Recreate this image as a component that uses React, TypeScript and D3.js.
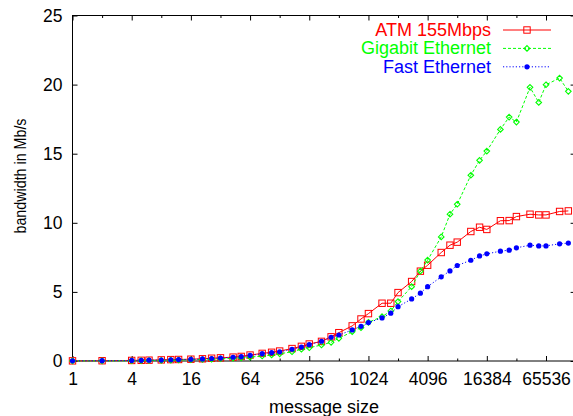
import { useEffect, useRef } from "react";
import * as d3 from "d3";

// message sizes (bytes) measured
const sizes = [
  1, 2, 4, 5, 6, 8, 10, 12, 16, 21, 26, 32, 43, 52, 64, 85, 106, 128, 171, 213,
  256, 341, 427, 512, 700, 860, 1024, 1408, 1728, 2048, 2816, 3456, 4096, 5632,
  6912, 8192, 11264, 13824, 16384, 22528, 27648, 32768, 45056, 55296, 65536,
  90112, 110592,
];

// bandwidth in Mb/s
const atm = [
  0.01, 0.02, 0.04, 0.05, 0.06, 0.08, 0.1, 0.11, 0.13, 0.16, 0.2, 0.23, 0.28,
  0.33, 0.43, 0.55, 0.63, 0.72, 0.9, 1.06, 1.23, 1.42, 1.75, 2.05, 2.54, 3.04,
  3.43, 4.18, 4.18, 4.95, 5.75, 6.5, 6.93, 7.85, 8.38, 8.6, 9.37, 9.68, 9.52,
  10.15, 10.16, 10.45, 10.62, 10.57, 10.57, 10.82, 10.86,
];
const gigabit = [
  0.005, 0.01, 0.02, 0.03, 0.035, 0.045, 0.06, 0.07, 0.09, 0.11, 0.13, 0.16,
  0.2, 0.23, 0.28, 0.36, 0.44, 0.52, 0.67, 0.85, 0.96, 1.16, 1.35, 1.64, 2.12,
  2.41, 2.8, 3.21, 3.62, 4.3, 5.38, 6.5, 7.3, 8.98, 10.62, 11.34, 13.44, 14.52,
  15.19, 16.76, 17.65, 17.29, 19.8, 18.71, 19.99, 20.47, 19.51,
];
const fast = [
  0.01, 0.02, 0.04, 0.05, 0.06, 0.07, 0.09, 0.1, 0.12, 0.15, 0.18, 0.21, 0.27,
  0.31, 0.4, 0.53, 0.6, 0.67, 0.85, 1.01, 1.18, 1.43, 1.72, 1.88, 2.25, 2.51,
  2.78, 3.12, 3.46, 3.93, 4.49, 4.91, 5.38, 6.09, 6.52, 6.91, 7.29, 7.6, 7.75,
  7.95, 8.02, 8.19, 8.38, 8.33, 8.33, 8.48, 8.53,
];

const xMajor = [1, 4, 16, 64, 256, 1024, 4096, 16384, 65536];
const xMinor = [2, 8, 32, 128, 512, 2048, 8192, 32768, 131072];
const yTicks = [0, 5, 10, 15, 20, 25];

const seriesNames = ["ATM 155Mbps", "Gigabit Ethernet", "Fast Ethernet"];

const W = 573;
const H = 416;
const FONT = "'Liberation Sans', Arial, Helvetica, sans-serif";

const App = () => {
  const ref = useRef<SVGSVGElement>(null);

  useEffect(() => {
    const svg = d3.select(ref.current);
    svg.selectAll("*").remove();

    const x = d3.scaleLog().base(2).domain([1, 131072]).range([72.5, 575.6]);
    const y = d3.scaleLinear().domain([0, 25]).range([361, 15.5]);
    const [x0, x1] = x.range();
    const [y0, y1] = y.range();

    const series = [
      { name: seriesNames[0], values: atm, color: "#ff0000", dash: null, mark: "square" },
      { name: seriesNames[1], values: gigabit, color: "#00ff00", dash: "3,2", mark: "diamond" },
      { name: seriesNames[2], values: fast, color: "#0000ff", dash: "1.2,2", mark: "circle" },
    ];

    // frame
    svg
      .append("rect")
      .attr("x", x0)
      .attr("y", y1)
      .attr("width", x1 - x0)
      .attr("height", y0 - y1)
      .attr("fill", "none")
      .attr("stroke", "#000")
      .attr("stroke-width", 1);

    const styleAxis = (g) => {
      g.select(".domain").remove();
      g.selectAll("line").attr("stroke", "#000");
      g.selectAll("text")
        .attr("font-family", FONT)
        .attr("font-size", 17.5)
        .attr("fill", "#000");
    };

    // bottom
    svg
      .append("g")
      .attr("transform", `translate(0,${y0})`)
      .call(d3.axisBottom(x).tickValues(xMajor).tickSize(-5).tickPadding(12).tickFormat(d3.format("d")))
      .call(styleAxis);
    svg
      .append("g")
      .attr("transform", `translate(0,${y0})`)
      .call(d3.axisBottom(x).tickValues(xMinor).tickSize(-2.5).tickFormat(() => ""))
      .call(styleAxis);
    // top mirror
    svg
      .append("g")
      .attr("transform", `translate(0,${y1})`)
      .call(d3.axisTop(x).tickValues(xMajor).tickSize(-5).tickFormat(() => ""))
      .call(styleAxis);
    svg
      .append("g")
      .attr("transform", `translate(0,${y1})`)
      .call(d3.axisTop(x).tickValues(xMinor).tickSize(-2.5).tickFormat(() => ""))
      .call(styleAxis);
    // left
    svg
      .append("g")
      .attr("transform", `translate(${x0},0)`)
      .call(d3.axisLeft(y).tickValues(yTicks).tickSize(-5).tickPadding(10))
      .call(styleAxis);
    // right mirror
    svg
      .append("g")
      .attr("transform", `translate(${x1},0)`)
      .call(d3.axisRight(y).tickValues(yTicks).tickSize(-5).tickFormat(() => ""))
      .call(styleAxis);

    // axis titles
    svg
      .append("text")
      .attr("x", (x0 + x1) / 2)
      .attr("y", 413)
      .attr("text-anchor", "middle")
      .attr("font-family", FONT)
      .attr("font-size", 18)
      .text("message size");
    svg
      .append("text")
      .attr("transform", `translate(26,176) rotate(-90)`)
      .attr("text-anchor", "middle")
      .attr("font-family", FONT)
      .attr("font-size", 16.5)
      .attr("textLength", 115)
      .attr("lengthAdjust", "spacingAndGlyphs")
      .text("bandwidth in Mb/s");

    const drawMark = (g, type, cx, cy, color) => {
      if (type === "square") {
        g.append("rect")
          .attr("x", cx - 3.2)
          .attr("y", cy - 3.2)
          .attr("width", 6.4)
          .attr("height", 6.4)
          .attr("fill", "none")
          .attr("stroke", color)
          .attr("stroke-width", 1);
      } else if (type === "diamond") {
        g.append("path")
          .attr("d", `M${cx},${cy - 2.8}L${cx + 2.8},${cy}L${cx},${cy + 2.8}L${cx - 2.8},${cy}Z`)
          .attr("fill", "none")
          .attr("stroke", color)
          .attr("stroke-width", 1.1);
      } else {
        g.append("circle").attr("cx", cx).attr("cy", cy).attr("r", 2.6).attr("fill", color);
      }
    };

    const line = d3
      .line<number>()
      .x((d, i) => x(sizes[i]))
      .y((d) => y(d));

    const plot = svg.append("g");
    series.forEach((s) => {
      plot
        .append("path")
        .datum(s.values)
        .attr("d", line)
        .attr("fill", "none")
        .attr("stroke", s.color)
        .attr("stroke-width", 1)
        .attr("stroke-dasharray", s.dash);
      const mg = plot.append("g");
      s.values.forEach((v, i) => drawMark(mg, s.mark, x(sizes[i]), y(v), s.color));
    });

    // legend
    const legend = svg.append("g");
    series.forEach((s, i) => {
      const by = 36 + i * 18.4;
      legend
        .append("text")
        .attr("x", 491)
        .attr("y", by)
        .attr("text-anchor", "end")
        .attr("font-family", FONT)
        .attr("font-size", 18)
        .attr("fill", s.color)
        .text(s.name);
      legend
        .append("line")
        .attr("x1", 503)
        .attr("x2", 551)
        .attr("y1", by - 6)
        .attr("y2", by - 6)
        .attr("stroke", s.color)
        .attr("stroke-width", 1)
        .attr("stroke-dasharray", s.dash);
      drawMark(legend, s.mark, 527, by - 6, s.color);
    });
  }, []);

  return (
    <div style={{ position: "absolute", left: 0, top: 0 }}>
      <svg ref={ref} width={W} height={H} style={{ display: "block", background: "#fff" }}></svg>
    </div>
  );
};

export default App;
